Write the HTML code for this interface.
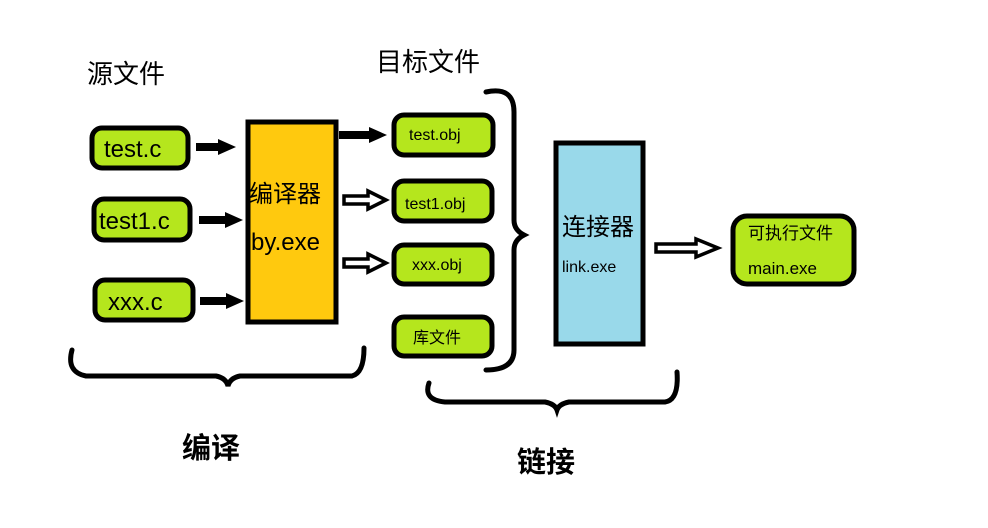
<!DOCTYPE html>
<html><head><meta charset="utf-8"><style>
html,body{margin:0;padding:0;background:#fff;width:988px;height:528px;overflow:hidden}
text{font-family:"Liberation Sans","Noto Sans CJK SC",sans-serif;fill:#000}
</style></head><body>
<svg width="988" height="528" viewBox="0 0 988 528" xmlns="http://www.w3.org/2000/svg">
<g stroke="#000" stroke-width="5" fill="#b5e61d">
<rect x="92" y="128" width="96" height="40" rx="10"/>
<rect x="94" y="199" width="96" height="41" rx="10"/>
<rect x="95" y="280" width="98" height="40" rx="10"/>
<rect x="394" y="115" width="99" height="40" rx="10"/>
<rect x="394" y="181" width="98" height="40" rx="10"/>
<rect x="394" y="245" width="98" height="39" rx="10"/>
<rect x="394" y="317" width="98" height="39" rx="10"/>
<rect x="733" y="216" width="121" height="68" rx="14"/>
</g>
<rect x="248" y="122" width="88" height="200" fill="#ffc90e" stroke="#000" stroke-width="5"/>
<rect x="556" y="143" width="87" height="201" fill="#99d9ea" stroke="#000" stroke-width="5"/>
<g fill="#000">
<path d="M196 143h22v-4l18 8l-18 8v-4h-22z"/>
<path d="M199 216h26v-4l18 8l-18 8v-4h-26z"/>
<path d="M200 297h26v-4l18 8l-18 8v-4h-26z"/>
<path d="M339 131h30v-4l18 8l-18 8v-4h-30z"/>
</g>
<g fill="#fff" stroke="#000" stroke-width="3.5">
<path d="M344 196h24v-5l18 9l-18 9v-5h-24z"/>
<path d="M344 259h24v-5l18 9l-18 9v-5h-24z"/>
<path d="M656 244h40v-5l22 9l-22 9v-5h-40z"/>
</g>
<g fill="none" stroke="#000" stroke-width="5" stroke-linecap="round">
<path d="M72 350q-6 22 14 26h130q10 2 12 10q2-8 12-10h112q12-3 12-28"/>
<path d="M486 92q28-6 28 20v108q0 10 10 15q-10 5-10 15v100q0 20-28 20"/>
<path d="M429 383q-6 17 16 19h100q10 2 12 8q2-6 12-8h96q14-2 12-30"/>
</g>
<g font-size="24">
<text x="87" y="83" font-size="26">源文件</text>
<text x="376" y="71" font-size="26">目标文件</text>
<text x="104" y="157">test.c</text>
<text x="99" y="229">test1.c</text>
<text x="108" y="310">xxx.c</text>
<text x="249" y="202">编译器</text>
<text x="251" y="250">by.exe</text>
<text x="562" y="235">连接器</text>
</g>
<g font-size="16">
<text x="409" y="140">test.obj</text>
<text x="405" y="209">test1.obj</text>
<text x="412" y="270">xxx.obj</text>
<text x="413" y="343">库文件</text>
<text x="562" y="272">link.exe</text>
<text x="748" y="239" font-size="17">可执行文件</text>
<text x="748" y="274" font-size="17">main.exe</text>
</g>
<g font-size="29" font-weight="bold">
<text x="182" y="458">编译</text>
<text x="517" y="472">链接</text>
</g>
</svg>
</body></html>
